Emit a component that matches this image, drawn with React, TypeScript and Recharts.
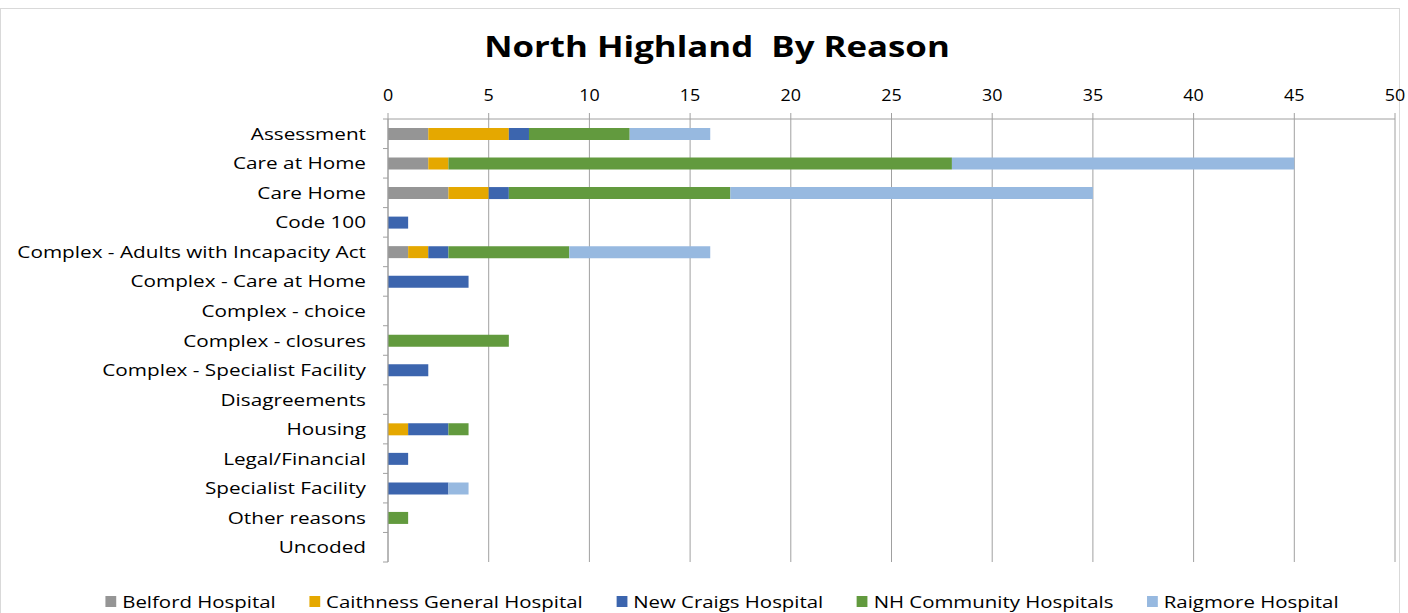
import React from 'react';
import { BarChart, Bar, XAxis, YAxis, CartesianGrid } from 'recharts';

const reasons = [
  'Assessment',
  'Care at Home',
  'Care Home',
  'Code 100',
  'Complex - Adults with Incapacity Act',
  'Complex - Care at Home',
  'Complex - choice',
  'Complex - closures',
  'Complex - Specialist Facility',
  'Disagreements',
  'Housing',
  'Legal/Financial',
  'Specialist Facility',
  'Other reasons',
  'Uncoded',
];

const belford = [2, 2, 3, 0, 1, 0, 0, 0, 0, 0, 0, 0, 0, 0, 0];
const caithness = [4, 1, 2, 0, 1, 0, 0, 0, 0, 0, 1, 0, 0, 0, 0];
const newCraigs = [1, 0, 1, 1, 1, 4, 0, 0, 2, 0, 2, 1, 3, 0, 0];
const nhCommunity = [5, 25, 11, 0, 6, 0, 0, 6, 0, 0, 1, 0, 0, 1, 0];
const raigmore = [4, 17, 18, 0, 7, 0, 0, 0, 0, 0, 0, 0, 1, 0, 0];

const xTicks = [0, 5, 10, 15, 20, 25, 30, 35, 40, 45, 50];

const series = [
  { key: 'belford', name: 'Belford Hospital', color: '#959595', values: belford },
  { key: 'caithness', name: 'Caithness General Hospital', color: '#E5A800', values: caithness },
  { key: 'newCraigs', name: 'New Craigs Hospital', color: '#3C65AE', values: newCraigs },
  { key: 'nhCommunity', name: 'NH Community Hospitals', color: '#629A3E', values: nhCommunity },
  { key: 'raigmore', name: 'Raigmore Hospital', color: '#97B9E0', values: raigmore },
];

const data = reasons.map((reason, i) => {
  const row: { [key: string]: string | number } = { reason };
  series.forEach((s) => {
    row[s.key] = s.values[i];
  });
  return row;
});

// the original text is a wide humanist sans, Open Sans stretched comes closest
const font = '"Open Sans", sans-serif';
const BAND = (562 - 119) / reasons.length;

function CategoryTick(props: any) {
  const { x, y, payload, index } = props;
  const tx = x - 14;
  return (
    <g>
      <line x1={x + 3} x2={x + 8} y1={y - BAND / 2} y2={y - BAND / 2} stroke="#a0a0a0" />
      {index === reasons.length - 1 && (
        <line x1={x + 3} x2={x + 8} y1={y + BAND / 2} y2={y + BAND / 2} stroke="#a0a0a0" />
      )}
      <text
        x={0}
        y={0}
        dy={6}
        textAnchor="end"
        fontSize={17}
        fill="#000"
        fontFamily={font}
        transform={`translate(${tx},${y}) scale(1.22,1)`}
      >
        {payload.value}
      </text>
    </g>
  );
}

function ValueTick(props: any) {
  const { x, payload } = props;
  return (
    <text
      x={0}
      y={0}
      textAnchor="middle"
      fontSize={16}
      fill="#000"
      fontFamily={font}
      transform={`translate(${x},101) scale(1.12,1)`}
    >
      {payload.value}
    </text>
  );
}

export default function App() {
  return (
    <div style={{ position: 'absolute', left: 0, top: 0, width: 1408, height: 613, background: '#fff', overflow: 'hidden' }}>
      <div
        style={{
          position: 'absolute',
          left: 0,
          top: 8,
          width: 1400,
          height: 640,
          border: '1px solid #d9d9d9',
          boxSizing: 'border-box',
        }}
      />
      <div
        style={{
          position: 'absolute',
          left: 717,
          top: 26,
          transform: 'translateX(-50%) scaleX(1.2)',
          fontFamily: font,
          fontWeight: 700,
          fontSize: 29,
          color: '#000',
          whiteSpace: 'pre',
        }}
      >
        {'North Highland  By Reason'}
      </div>
      <div style={{ position: 'absolute', left: 0, top: 0 }}>
        <BarChart
          width={1408}
          height={613}
          data={data}
          layout="vertical"
          margin={{ top: 89, right: 13, bottom: 51, left: 0 }}
          barSize={12}
        >
          <CartesianGrid horizontal={false} stroke="#a0a0a0" />
          <XAxis
            type="number"
            orientation="top"
            domain={[0, 50]}
            ticks={xTicks}
            height={30}
            stroke="#a0a0a0"
            tickSize={6}
            tick={<ValueTick />}
            interval={0}
          />
          <YAxis
            type="category"
            dataKey="reason"
            width={388}
            stroke="#a0a0a0"
            tickLine={false}
            tick={<CategoryTick />}
            interval={0}
          />
          {series.map((s) => (
            <Bar
              key={s.key}
              dataKey={s.key}
              name={s.name}
              stackId="a"
              fill={s.color}
              isAnimationActive={false}
            />
          ))}
        </BarChart>
      </div>
      <div
        style={{
          position: 'absolute',
          left: 722,
          top: 590,
          transform: 'translateX(-50%) scaleX(1.2)',
          display: 'flex',
          fontFamily: font,
          fontSize: 17,
          color: '#000',
          whiteSpace: 'nowrap',
        }}
      >
        {series.map((s) => (
          <div key={s.key} style={{ display: 'flex', alignItems: 'center', margin: '0 14px' }}>
            <span style={{ width: 9, height: 11, background: s.color, display: 'inline-block', marginRight: 5 }} />
            <span>{s.name}</span>
          </div>
        ))}
      </div>
    </div>
  );
}
